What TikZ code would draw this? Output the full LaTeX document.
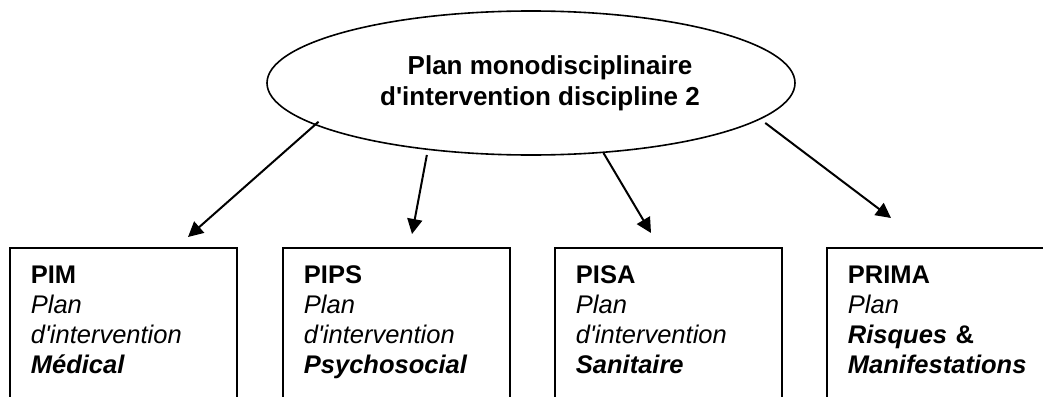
\documentclass[tikz,border=0pt]{standalone}
\usepackage{fontspec}
\setmainfont{Liberation Sans}
\usetikzlibrary{shapes.geometric, arrows.meta}

\begin{document}
\begin{tikzpicture}[x = 1pt, y = -1pt,
    plan/.style = {shape = rectangle, draw, line width = 1.8pt, anchor = north west, align = left,
        text width = 185pt, inner xsep = 21pt, inner ysep = 18pt, text height = 18pt, text depth = 140pt,
        font = \fontsize{25.5}{30}\selectfont},
    link/.style = {line width = 2pt, -{Triangle[length = 15pt, width = 15pt]}}]
    \useasboundingbox (0,0) rectangle (1043,396);
    \clip (0,0) rectangle (1043,396);
    \node (P) at (531,83) [shape = ellipse, draw, line width = 1.6pt, minimum width = 528pt, minimum height = 144pt,
        inner sep = 0pt, align = center, font = \bfseries\fontsize{26}{31}\selectfont]
        {\hspace*{38pt}Plan monodisciplinaire\\ \hspace*{18pt}d\textquotesingle intervention discipline 2};
    \node (PIM) at (9,247) [plan] {\textbf{PIM}\\ \textit{Plan}\\ \textit{d\textquotesingle intervention}\\ \textbf{\textit{Médical}}};
    \node (PIPS) at (282,247) [plan] {\textbf{PIPS}\\ \textit{Plan}\\ \textit{d\textquotesingle intervention}\\ \textbf{\textit{Psychosocial}}};
    \node (PISA) at (554,247) [plan] {\textbf{PISA}\\ \textit{Plan}\\ \textit{d\textquotesingle intervention}\\ \textbf{\textit{Sanitaire}}};
    \node (PRIMA) at (826,247) [plan] {\textbf{PRIMA}\\ \textit{Plan}\\ \textbf{\textit{Risques}} \textbf{\&}\\ \textbf{\textit{Manifestations}}};
    \coordinate (tPIM) at (188,237);
    \coordinate (tPIPS) at (412,234);
    \coordinate (tPISA) at (651,233);
    \coordinate (tPRIMA) at (891,218);
    \draw [link, shorten <= -5pt] (P.191) -- (tPIM);
    \draw [link, shorten <= 5pt] (P.213) -- (tPIPS);
    \draw [link] (P.316) -- (tPISA);
    \draw [link, shorten <= 6pt] (P.351) -- (tPRIMA);
\end{tikzpicture}
\end{document}
